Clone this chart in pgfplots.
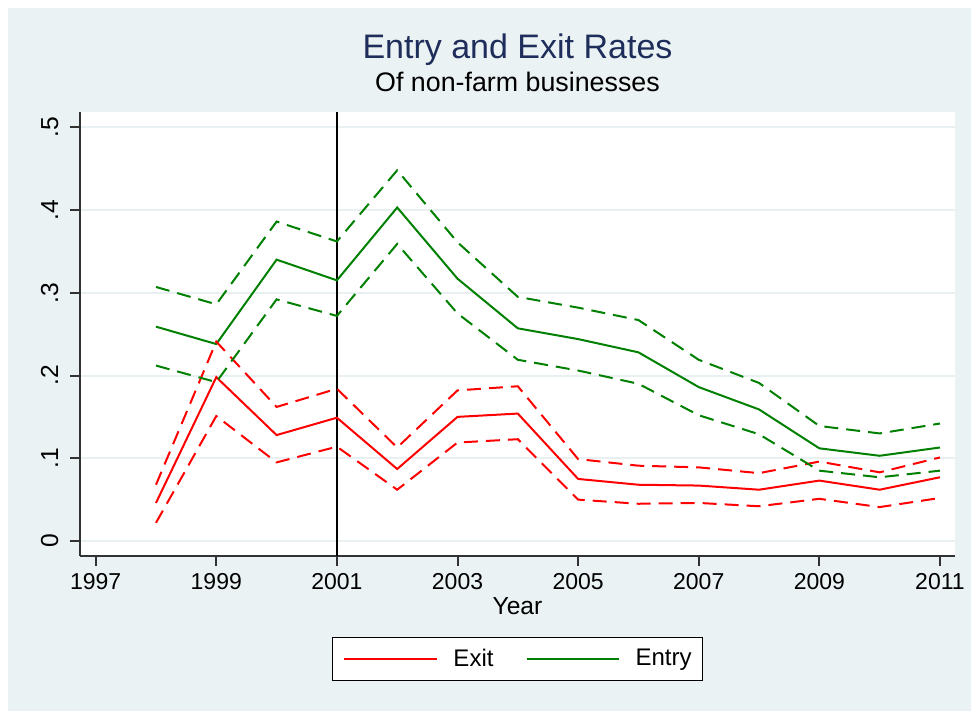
\documentclass[border=0pt]{standalone}
\usepackage{pgfplots}
\pgfplotsset{compat=1.18}
\usepackage{fontspec}
\setmainfont{Liberation Sans}

\definecolor{bgcol}{RGB}{234,242,243}
\definecolor{gridcol}{RGB}{232,240,242}
\definecolor{titlecol}{RGB}{30,45,90}
\definecolor{axcol}{RGB}{50,50,50}
\definecolor{exitcol}{RGB}{255,0,0}
\definecolor{entrycol}{RGB}{0,128,0}

\pgfplotstableread{
year  entry  entryhi entrylo exit  exithi exitlo
1998  0.259  0.307   0.212   0.046 0.068  0.022
1999  0.238  0.286   0.192   0.198 0.241  0.151
2000  0.340  0.386   0.292   0.128 0.162  0.095
2001  0.315  0.362   0.272   0.149 0.184  0.114
2002  0.403  0.448   0.359   0.087 0.113  0.062
2003  0.317  0.361   0.275   0.150 0.182  0.119
2004  0.257  0.295   0.219   0.154 0.187  0.123
2005  0.244  0.282   0.206   0.075 0.099  0.050
2006  0.228  0.267   0.190   0.068 0.091  0.045
2007  0.186  0.219   0.152   0.067 0.089  0.046
2008  0.159  0.191   0.129   0.062 0.082  0.042
2009  0.112  0.139   0.085   0.073 0.096  0.051
2010  0.103  0.130   0.077   0.062 0.083  0.041
2011  0.113  0.142   0.085   0.077 0.101  0.052
}\rates

\begin{document}
\begin{tikzpicture}[x=0.5bp,y=0.5bp]
% canvas and graph region
\path[use as bounding box, fill=white] (0,0) rectangle (971,711);
\fill[bgcol] (8,0) rectangle (971,703);

\begin{axis}[
  at={(40bp,77.5bp)}, anchor=south west,
  scale only axis, width=437.5bp, height=222.15bp,
  xmin=1996.74, xmax=2011.25,
  ymin=-0.0181, ymax=0.5188,
  axis background/.style={fill=white},
  axis lines*=left,
  axis line style={line width=1bp, axcol},
  every tick/.style={line width=1bp, axcol},
  tick align=outside,
  major tick length=5bp,
  xtick={1997,1999,2001,2003,2005,2007,2009,2011},
  xticklabels={1997,1999,2001,2003,2005,2007,2009,2011},
  ytick={0,0.1,0.2,0.3,0.4,0.5},
  yticklabels={0,.1,.2,.3,.4,.5},
  minor tick num=0,
  ymajorgrids,
  grid style={line width=1bp, gridcol},
  xticklabel style={font=\fontsize{11.5bp}{13bp}\selectfont, anchor=base, inner sep=0pt, yshift=-11.65bp},
  % rotated labels: a positive yshift moves them away from the axis
  yticklabel style={font=\fontsize{12.3bp}{14bp}\selectfont, rotate=90, anchor=base, inner sep=0pt, yshift=6.0bp},
  clip=false,
  legend columns=2,
  legend style={
    at={(axis description cs:0.5,-0.2318)}, anchor=center,
    draw=black, line width=0.5bp, fill=white,
    inner xsep=5.5bp, inner ysep=5.5bp,
    nodes={inner sep=0pt, font=\fontsize{12bp}{14bp}\selectfont},
    /tikz/column 1/.style={column sep=8bp},
    /tikz/column 2/.style={column sep=16bp},
    /tikz/column 3/.style={column sep=8bp},
  },
  legend image code/.code={\draw[#1] (0bp,0bp) -- (46bp,0bp);},
]
% reference year
\addplot[black, line width=1bp, forget plot] coordinates {(2001,-0.0181) (2001,0.5188)};

\addplot[exitcol, line width=1bp] table[x=year, y=exit] {\rates};
\addlegendentry{Exit}
\addplot[entrycol, line width=1bp] table[x=year, y=entry] {\rates};
\addlegendentry{Entry}

\addplot[exitcol, line width=1bp, dash pattern=on 7bp off 4bp, forget plot] table[x=year, y=exithi] {\rates};
\addplot[exitcol, line width=1bp, dash pattern=on 7bp off 4bp, forget plot] table[x=year, y=exitlo] {\rates};
\addplot[entrycol, line width=1bp, dash pattern=on 7bp off 4bp, forget plot] table[x=year, y=entryhi] {\rates};
\addplot[entrycol, line width=1bp, dash pattern=on 7bp off 4bp, forget plot] table[x=year, y=entrylo] {\rates};
\end{axis}

% titles and axis title
\node[anchor=base, text=titlecol, font=\fontsize{17bp}{20bp}\selectfont, inner sep=0pt] at (517.5,652.7) {Entry and Exit Rates};
\node[anchor=base, font=\fontsize{13.4bp}{16bp}\selectfont, inner sep=0pt] at (517.5,619.3) {Of non-farm businesses};
\node[anchor=base, font=\fontsize{12.3bp}{14bp}\selectfont, inner sep=0pt] at (517.5,96) {Year};
\end{tikzpicture}
\end{document}
